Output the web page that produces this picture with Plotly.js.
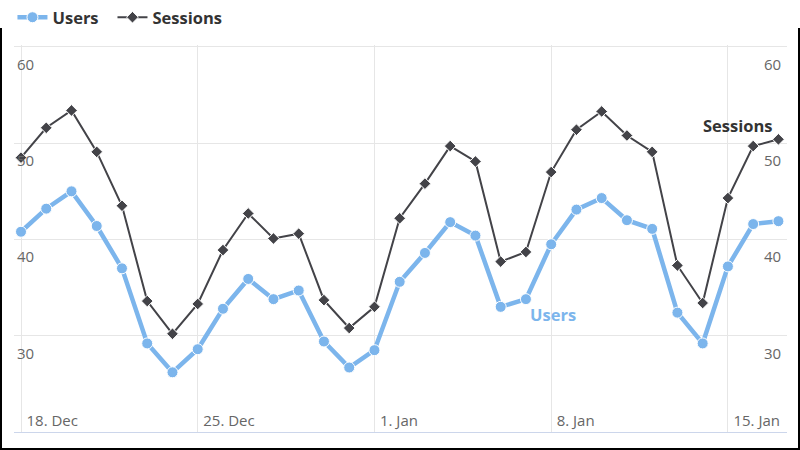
<!DOCTYPE html>
<html>
<head>
<meta charset="utf-8">
<script src="https://cdn.plot.ly/plotly-3.0.1.min.js"></script>
<style>
  html, body { margin: 0; padding: 0; background: #fff; }
  #wrap { position: relative; width: 800px; height: 450px; }
  #chart { width: 800px; height: 450px; }
  #frame { position: absolute; left: 0; top: 28px; width: 800px; height: 422px; box-sizing: border-box;
           border: 2px solid #000; border-top: none; pointer-events: none; }
</style>
</head>
<body>
<div id="wrap"><div id="chart"></div><div id="frame"></div></div>
<script>
const dates = [
  '2017-12-18','2017-12-19','2017-12-20','2017-12-21','2017-12-22','2017-12-23','2017-12-24',
  '2017-12-25','2017-12-26','2017-12-27','2017-12-28','2017-12-29','2017-12-30','2017-12-31',
  '2018-01-01','2018-01-02','2018-01-03','2018-01-04','2018-01-05','2018-01-06','2018-01-07',
  '2018-01-08','2018-01-09','2018-01-10','2018-01-11','2018-01-12','2018-01-13','2018-01-14',
  '2018-01-15','2018-01-16','2018-01-17'
];
const users = [40.8, 43.2, 45.0, 41.4, 37.0, 29.2, 26.2, 28.6, 32.8, 35.9, 33.8, 34.7, 29.4, 26.7, 28.5,
               35.6, 38.6, 41.8, 40.4, 33.0, 33.8, 39.5, 43.1, 44.3, 42.0, 41.1, 32.4, 29.2, 37.2, 41.6, 41.9];
const sessions = [48.5, 51.6, 53.4, 49.1, 43.5, 33.6, 30.2, 33.3, 38.9, 42.7, 40.1, 40.6, 33.7, 30.8, 33.0,
                  42.2, 45.8, 49.7, 48.1, 37.7, 38.7, 47.0, 51.4, 53.3, 50.8, 49.1, 37.3, 33.4, 44.3, 49.7, 50.4];
const weekTicks = ['2017-12-18', '2017-12-25', '2018-01-01', '2018-01-08', '2018-01-15'];
const weekLabels = ['18. Dec', '25. Dec', '1. Jan', '8. Jan', '15. Jan'];
const yTicks = [30, 40, 50, 60];
const seriesNames = ['Users', 'Sessions'];

const FONT = '"Open Sans", "DejaVu Sans", sans-serif';
const tickFont = { family: FONT, size: 15, color: '#666666' };
const legendFont = { family: FONT, size: 16.5, color: '#333333', weight: 'bold' };

const traces = [
  {
    x: dates, y: users, name: seriesNames[0], type: 'scatter', mode: 'lines+markers', legend: 'legend',
    line: { color: '#7cb5ec', width: 4.5 },
    marker: { color: '#7cb5ec', size: 11, symbol: 'circle', line: { color: '#ffffff', width: 1 } },
    hoverinfo: 'skip'
  },
  {
    x: dates, y: sessions, name: seriesNames[1], type: 'scatter', mode: 'lines+markers', legend: 'legend2',
    line: { color: '#434348', width: 2 },
    marker: { color: '#434348', size: 9, symbol: 'diamond', line: { color: '#ffffff', width: 1 } },
    hoverinfo: 'skip'
  }
];

// y tick labels sit just below their grid lines, inside the plot, on both sides
const yLabelAnnots = [];
yTicks.forEach(v => {
  yLabelAnnots.push({ xref: 'paper', yref: 'y', x: 0, y: v, xanchor: 'left', yanchor: 'middle',
    xshift: 1, yshift: -17, text: String(v), showarrow: false, font: tickFont });
  yLabelAnnots.push({ xref: 'paper', yref: 'y', x: 1, y: v, xanchor: 'right', yanchor: 'middle',
    xshift: -4, yshift: -17, text: String(v), showarrow: false, font: tickFont });
});

const layout = {
  width: 800, height: 450,
  margin: { l: 14, r: 13, t: 45, b: 18, pad: 0 },
  paper_bgcolor: '#ffffff', plot_bgcolor: '#ffffff',
  showlegend: true,
  legend: {
    orientation: 'h', x: -0.002, xanchor: 'left', y: 1, yanchor: 'top', yref: 'container',
    font: legendFont, bgcolor: 'rgba(0,0,0,0)', itemwidth: 30
  },
  legend2: {
    orientation: 'h', x: 0.1274, xanchor: 'left', y: 1, yanchor: 'top', yref: 'container',
    font: legendFont, bgcolor: 'rgba(0,0,0,0)', itemwidth: 30
  },
  xaxis: {
    type: 'date', range: ['2017-12-17 17:21', '2018-01-17 08:10'],
    tickmode: 'array', tickvals: weekTicks, ticktext: weekLabels,
    ticklabelposition: 'inside right', ticklabelshift: 5, ticks: '',
    showgrid: true, gridcolor: '#e6e6e6', gridwidth: 1,
    showline: true, linecolor: '#ccd6eb', linewidth: 1, zeroline: false,
    tickfont: tickFont, fixedrange: true
  },
  yaxis: {
    range: [20, 60.2], tickmode: 'array', tickvals: yTicks, showticklabels: false,
    showgrid: true, gridcolor: '#e6e6e6', gridwidth: 1,
    zeroline: false, showline: false, ticks: '', fixedrange: true
  },
  annotations: yLabelAnnots.concat([
    { xref: 'x', yref: 'y', x: '2018-01-08 02:00', y: 32.2, text: seriesNames[0], showarrow: false,
      font: { family: FONT, size: 16.5, color: '#7cb5ec', weight: 'bold' } },
    { xref: 'x', yref: 'y', x: '2018-01-15 09:30', y: 51.8, text: seriesNames[1], showarrow: false,
      font: { family: FONT, size: 16.5, color: '#333333', weight: 'bold' } }
  ])
};

Plotly.newPlot('chart', traces, layout, { displayModeBar: false, staticPlot: true });
</script>
</body>
</html>
